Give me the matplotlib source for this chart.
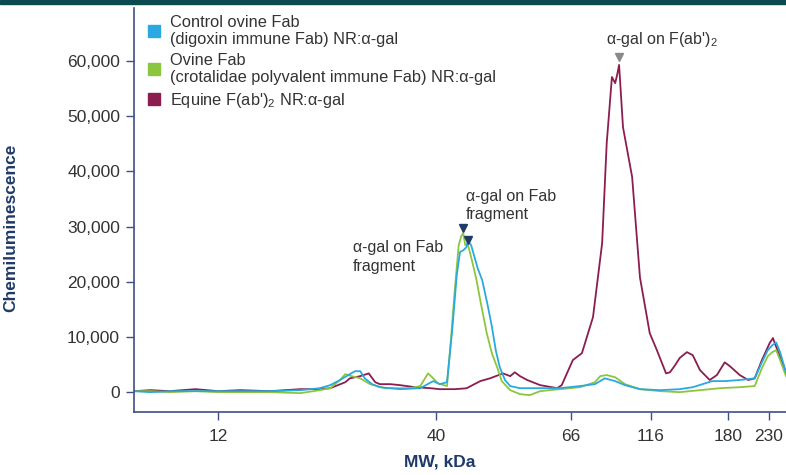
import matplotlib
matplotlib.use("Agg")
import matplotlib.pyplot as plt
from matplotlib.lines import Line2D
from matplotlib.patches import Rectangle

plt.rcParams['font.family'] = ['Liberation Sans', 'DejaVu Sans']
plt.rcParams['mathtext.default'] = 'regular'

# migration position (0-100 across the plot) and signal
x_equine = [0, 2.5, 5.5, 9.4, 12.9, 16.3, 20.9, 25.5, 28.5, 30.1, 32.4, 33.1, 34.7, 36.0,
            37.0, 37.7, 39.3, 40.8, 43.1, 45.4, 46.9, 49.2, 51.0, 53.1, 54.6, 56.6, 57.7,
            58.4, 59.2, 60.3, 62.3, 64.9, 65.6, 67.3, 68.7, 70.4, 71.8, 72.5, 73.3, 73.8,
            74.1, 74.4, 75.0, 76.4, 77.6, 79.1, 80.2, 81.6, 82.2, 83.0, 83.7, 84.8, 85.7,
            86.8, 88.3, 89.4, 90.6, 91.4, 92.9, 94.2, 95.2, 96.3, 97.5, 98.0, 98.8, 100]
y_equine = [180, 360, 180, 540, 180, 360, 180, 540, 540, 720, 1800, 2500, 2900, 3400,
            1800, 1450, 1450, 1270, 900, 720, 540, 540, 700, 2000, 2500, 3400, 2900,
            3600, 2900, 2200, 1270, 720, 1270, 5800, 7070, 13600, 27000, 45100, 57100, 56000,
            57500, 59300, 48000, 39000, 20800, 10700, 7600, 3400, 3600, 4900, 6200, 7250, 6700,
            4000, 2200, 3100, 5400, 4700, 3100, 2200, 2500, 5800, 8900, 9800, 7250, 3600]

x_control = [0, 2.5, 5.5, 9.4, 12.9, 16.3, 20.9, 25.5, 28.5, 30.1, 31.6, 33.1, 33.9, 34.7,
             35.4, 36.5, 37.7, 40.8, 43.9, 45.9, 46.9, 48.0, 48.8, 49.5, 50.0, 50.5, 51.0,
             51.2, 51.7, 52.1, 52.7, 53.4, 54.2, 54.9, 55.5, 56.1, 56.9, 57.7, 59.2, 62.3,
             65.3, 68.4, 70.7, 72.2, 73.8, 75.3, 77.6, 80.7, 83.7, 85.7, 88.7, 90.6, 92.9,
             95.2, 96.3, 97.2, 97.9, 98.5, 99.1, 100]
y_control = [180, 0, 180, 180, 180, 180, 180, 360, 720, 1270, 2200, 3260, 3800, 3800,
             2500, 1450, 900, 540, 720, 2000, 1450, 1800, 11200, 21200, 25400, 25700, 26300,
             27400, 26650, 25000, 22500, 20300, 16000, 11800, 7500, 4500, 2200, 1100, 720, 720,
             720, 1100, 1450, 2500, 2000, 1270, 540, 360, 540, 900, 2000, 2000, 2200,
             2500, 5400, 7600, 8500, 9000, 7200, 3600]

x_ovine = [0, 2.5, 5.5, 9.4, 12.9, 16.3, 20.9, 25.5, 28.5, 30.1, 31.6, 32.4, 33.4, 34.7,
           36.2, 38.5, 42.3, 43.9, 45.1, 45.9, 46.6, 48.0, 48.6, 49.2, 49.8, 50.2, 50.5,
           50.8, 51.2, 51.8, 52.5, 53.1, 54.1, 54.9, 55.7, 56.4, 57.7, 59.2, 60.7, 62.3,
           65.3, 68.4, 70.7, 71.5, 72.5, 73.8, 75.3, 77.6, 80.7, 83.7, 86.8, 89.9, 92.9,
           95.2, 96.3, 97.2, 97.9, 98.5, 99.1, 100]
y_ovine = [180, 180, 0, 180, 0, 0, 0, -180, 360, 720, 2200, 3260, 2900, 2500,
           1450, 720, 720, 1100, 3400, 2500, 1600, 1100, 9400, 18500, 26650, 28300, 28800,
           26650, 26800, 24000, 20500, 16700, 10700, 7000, 4500, 2000, 360, -360, -540, 180,
           540, 900, 1800, 2900, 3100, 2700, 1450, 540, 180, 0, 360, 720, 900,
           1100, 4350, 6500, 7250, 7600, 5800, 2900]

series_labels = ["Control ovine Fab\n(digoxin immune Fab) NR:α-gal",
                 "Ovine Fab\n(crotalidae polyvalent immune Fab) NR:α-gal",
                 "Equine F(ab')$_2$ NR:α-gal"]
series_colors = ["#2aa9e0", "#8cc63f", "#8b1d4f"]

mw_ticks = [12.9, 46.3, 67.0, 79.3, 91.1, 97.4]
mw_labels = ["12", "40", "66", "116", "180", "230"]
y_ticks = [0, 10000, 20000, 30000, 40000, 50000, 60000]

navy = "#1f3a68"
spine_col = "#3d4f86"

fig = plt.figure(figsize=(7.86, 4.75), dpi=100)
fig.patches.append(Rectangle((0, 0.991), 1, 0.009, transform=fig.transFigure,
                             color="#0b4a4f", zorder=0))
ax = fig.add_axes([0.1705, 0.1326, 0.8295, 0.8504])

ax.plot(x_equine, y_equine, color=series_colors[2], lw=1.3)
ax.plot(x_ovine, y_ovine, color=series_colors[1], lw=1.3)
ax.plot(x_control, y_control, color=series_colors[0], lw=1.3)

ax.set_xlim(0, 100)
ax.set_ylim(-3600, 69600)
ax.set_yticks(y_ticks)
ax.set_yticklabels([f"{v:,}" for v in y_ticks])
ax.set_xticks(mw_ticks)
ax.set_xticklabels(mw_labels)
ax.tick_params(axis='both', labelsize=12.5, colors=spine_col, labelcolor="#333333",
               length=6, width=1)
ax.tick_params(axis='y', pad=4)
ax.tick_params(axis='x', pad=6)

for s in ['top', 'right']:
    ax.spines[s].set_visible(False)
for s in ['left', 'bottom']:
    ax.spines[s].set_color(spine_col)
    ax.spines[s].set_linewidth(1.2)

ax.set_ylabel("Chemiluminescence", fontsize=12.5, fontweight='bold', color=navy)
ax.set_xlabel("MW, kDa", fontsize=12.5, fontweight='bold', color=navy)
ax.yaxis.set_label_coords(-0.178, 0.455)
ax.xaxis.set_label_coords(0.469, -0.105)

# peak markers and labels
ax.plot([50.5], [29700], marker='v', color=navy, ms=6, ls='none')
ax.plot([51.3], [27600], marker='v', color=navy, ms=6, ls='none')
ax.plot([74.4], [60700], marker='v', color="#8a8a8a", ms=6, ls='none')
ax.text(50.9, 30800, "α-gal on Fab\nfragment", fontsize=11.5, color="#333333",
        ha='left', va='bottom', linespacing=1.3)
ax.text(33.6, 21500, "α-gal on Fab\nfragment", fontsize=11.5, color="#333333",
        ha='left', va='bottom', linespacing=1.3)
ax.text(81.0, 62200, "α-gal on F(ab')$_2$", fontsize=11.5, color="#333333",
        ha='center', va='bottom')

handles = [Line2D([], [], marker='s', ls='none', color=c, ms=8) for c in series_colors]
ax.legend(handles, series_labels, loc='upper left', bbox_to_anchor=(0.01, 1.0),
          frameon=False, fontsize=11.8, handlelength=0.8, handletextpad=0.6,
          labelspacing=0.35, borderaxespad=0, labelcolor="#333333")

fig.savefig("out.png", dpi=100)
